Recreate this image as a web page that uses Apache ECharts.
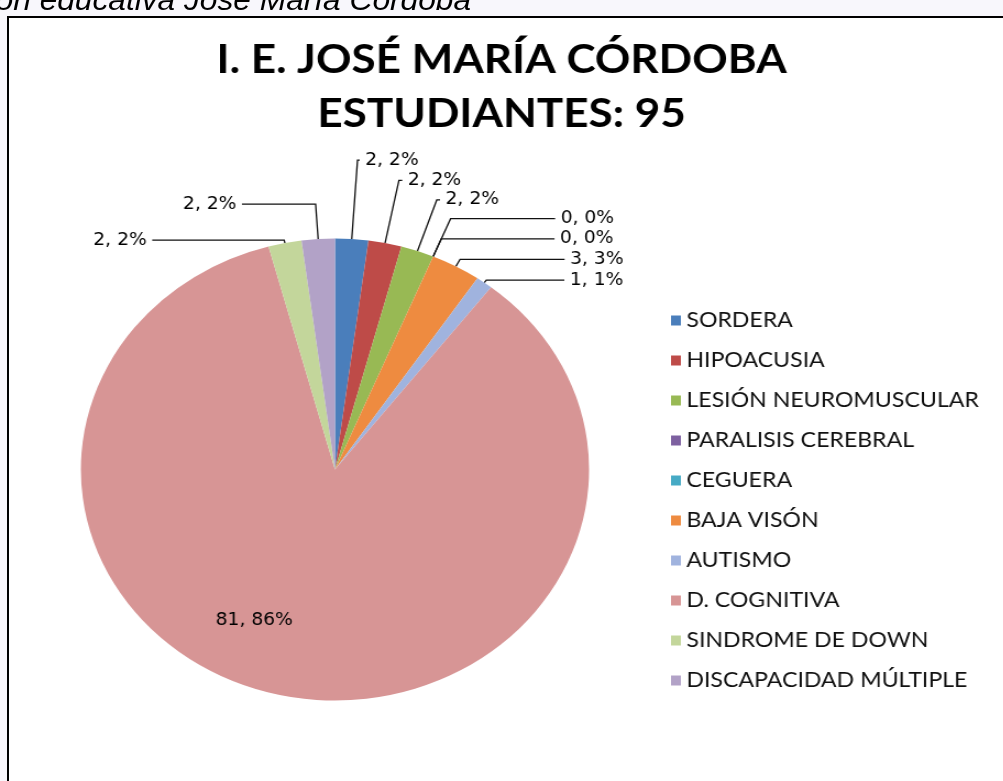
<!DOCTYPE html>
<html>
<head>
<meta charset="utf-8">
<script src="https://cdn.jsdelivr.net/npm/echarts@6/dist/echarts.min.js"></script>
<style>
  html, body { margin: 0; padding: 0; width: 1003px; height: 781px; overflow: hidden; background: #f8f7fc; }
  #frame { position: absolute; left: 7px; top: 16px; width: 1010px; height: 780px; background: #fff;
           border-left: 2px solid #000; border-top: 2px solid #000; }
  /* the reference picture is stretched a little sideways */
  #wrap { position: absolute; left: 0; top: 0; width: 912px; height: 781px;
          transform: scaleX(1.1); transform-origin: 0 0; }
  #cap { position: absolute; left: -4px; top: -14px; font: italic 28.8px "Liberation Sans", Arial, sans-serif;
         line-height: 28px; color: #000; white-space: nowrap; }
  #main { position: absolute; left: 0; top: 0; width: 912px; height: 781px; }
</style>
</head>
<body>
<div id="frame"></div>
<div id="wrap">
  <div id="cap">ón educativa José María Córdoba</div>
  <div id="main"></div>
</div>
<script>
var categories = ['SORDERA', 'HIPOACUSIA', 'LESIÓN NEUROMUSCULAR', 'PARALISIS CEREBRAL', 'CEGUERA',
                  'BAJA VISÓN', 'AUTISMO', 'D. COGNITIVA', 'SINDROME DE DOWN', 'DISCAPACIDAD MÚLTIPLE'];
var students = [2, 2, 2, 0, 0, 3, 1, 81, 2, 2];

var colors = ['#4a7ebb', '#be4b48', '#98b954', '#7d60a0', '#46aac5',
              '#ee8b40', '#a0b3de', '#d79595', '#c3d69b', '#b2a2c7'];
// leader line lengths for each label (radial part, horizontal part)
var leadLen = [79, 64, 54, 41, 19, 8, 3, 0, 3, 35];
var leadLen2 = [2, 3, 3, 95, 103, 95, 71, 0, 120, 67];

var chart = echarts.init(document.getElementById('main'));

var pieData = categories.map(function (name, i) {
  var item = {
    name: name,
    value: students[i],
    itemStyle: { color: colors[i] },
    labelLine: { length: leadLen[i], length2: leadLen2[i] }
  };
  if (i === 7) {
    item.label = { position: 'inside' };
    item.labelLine = { show: false };
  }
  return item;
});

chart.setOption({
  animation: false,
  title: {
    text: 'I. E. JOSÉ MARÍA CÓRDOBA\nESTUDIANTES: 95',
    left: 'center',
    top: 28,
    textStyle: { fontFamily: 'Lato', fontWeight: 'bold', fontSize: 40, lineHeight: 54, color: '#000' }
  },
  legend: {
    orient: 'vertical',
    left: 605,
    top: 305,
    icon: 'rect',
    itemWidth: 9,
    itemHeight: 10,
    itemGap: 19,
    selectedMode: false,
    data: categories,
    textStyle: { fontFamily: 'Lato', fontSize: 21, lineHeight: 21, color: '#111' }
  },
  series: [{
    type: 'pie',
    center: [304.5, 469.5],
    radius: 231,
    startAngle: 90,
    clockwise: true,
    percentPrecision: 0,
    avoidLabelOverlap: false,
    itemStyle: { borderWidth: 0 },
    label: {
      position: 'outside',
      alignTo: 'none',
      formatter: '{c}, {d}%',
      color: '#000',
      fontFamily: 'DejaVu Sans',
      fontSize: 17,
      distanceToLabelLine: 5
    },
    labelLine: { show: true, smooth: false, lineStyle: { color: '#111', width: 1.3 } },
    labelLayout: function (p) {
      if (p.dataIndex === 7) return { dx: -50, dy: 35 };
    },
    emphasis: { disabled: true },
    data: pieData
  }]
});
</script>
</body>
</html>
